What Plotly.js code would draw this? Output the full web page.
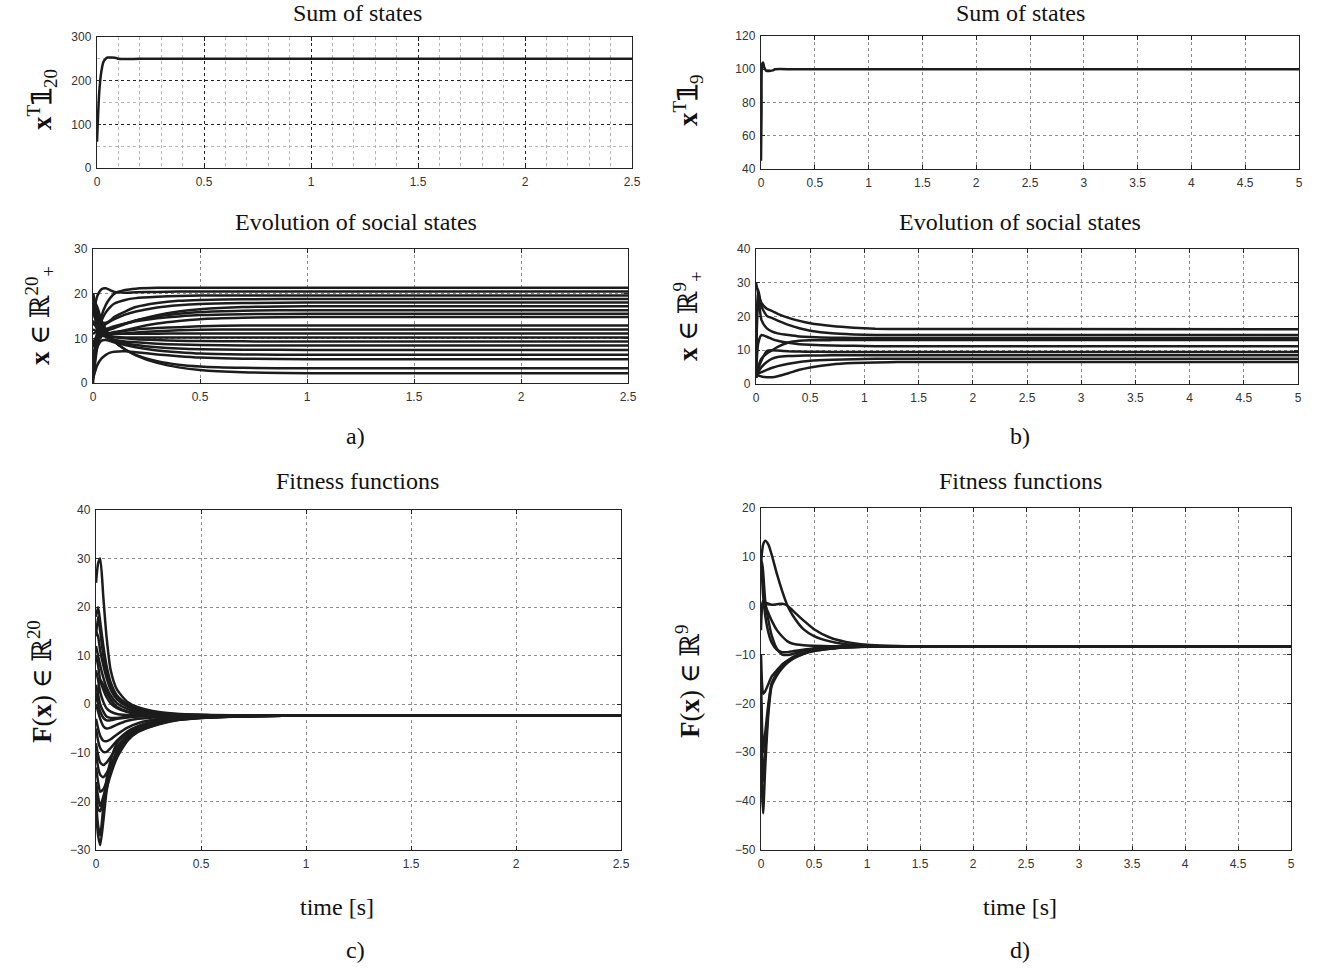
<!DOCTYPE html>
<html>
<head>
<meta charset="utf-8">
<script src="https://cdn.plot.ly/plotly-3.0.1.min.js"></script>
<style>html,body{margin:0;padding:0;background:#fff;}#chart{width:1326px;height:971px;}</style>
</head>
<body>
<div id="chart"></div>
<script>
// ---------------- DATA ----------------
// a) Sum of states, 20 populations
const tSum20 = [0, 0.005, 0.01, 0.02, 0.03, 0.04, 0.05, 0.07, 0.09, 0.1, 0.2, 0.5, 1.0, 1.5, 2.0, 2.5];
const sum20  = [60, 120, 170, 220, 243, 250, 253, 253, 252, 250, 250, 250, 250, 250, 250, 250];

// b) Sum of states, 9 populations
const tSum9 = [0, 0.005, 0.01, 0.02, 0.03, 0.05, 0.08, 0.11, 0.13, 0.3, 1, 2, 3, 4, 5];
const sum9  = [45, 75, 103, 104, 101, 99, 99, 99.3, 100, 100, 100, 100, 100, 100, 100];

// a) Evolution of social states, 20 states
const tState20 = [0, 0.02, 0.04, 0.06, 0.08, 0.1, 0.15, 0.2, 0.3, 0.4, 0.5, 0.7, 1.0, 2.5];
const states20 = [
  [2, 10, 15, 17.5, 19, 20, 20.8, 21.1, 21.3, 21.3, 21.3, 21.3, 21.3, 21.3],
  [15, 19.5, 21, 21.2, 20.8, 20.4, 20.2, 20.3, 20.4, 20.5, 20.5, 20.5, 20.5, 20.5],
  [5, 11, 14, 15.8, 17, 17.8, 18.6, 19.0, 19.3, 19.5, 19.6, 19.6, 19.6, 19.6],
  [18, 15, 13.5, 13.5, 14, 14.8, 16, 17, 17.9, 18.4, 18.6, 18.75, 18.8, 18.8],
  [8, 11, 12.5, 13.2, 13.8, 14.3, 15.3, 16, 16.9, 17.4, 17.7, 17.9, 18, 18],
  [20, 16, 13, 12, 12, 12.3, 13.2, 14, 15.2, 16, 16.5, 17, 17.2, 17.2],
  [11, 11.5, 11.5, 11.8, 12.1, 12.5, 13.3, 14, 14.9, 15.5, 15.9, 16.2, 16.3, 16.3],
  [0, 8, 11, 12, 12.4, 12.7, 13.3, 13.8, 14.5, 14.9, 15.2, 15.4, 15.5, 15.5],
  [16, 13, 11.5, 11, 11, 11.2, 11.8, 12.4, 13.3, 13.9, 14.3, 14.6, 14.8, 14.8],
  [3, 9, 10.5, 11, 11.2, 11.4, 11.7, 12, 12.3, 12.5, 12.7, 12.85, 12.9, 12.9],
  [20, 15, 12.5, 11.5, 11.1, 11, 11.1, 11.3, 11.6, 11.8, 11.9, 12, 12, 12],
  [9, 10.5, 10.8, 10.9, 11, 11, 11, 11, 11.05, 11.1, 11.1, 11.1, 11.1, 11.1],
  [14, 12, 11, 10.6, 10.4, 10.3, 10.2, 10.2, 10.2, 10.2, 10.2, 10.2, 10.2, 10.2],
  [6, 9.5, 10.5, 10.6, 10.5, 10.3, 10, 9.8, 9.6, 9.45, 9.4, 9.32, 9.3, 9.3],
  [17, 14, 11.5, 10.5, 10, 9.7, 9.3, 9.1, 8.8, 8.6, 8.5, 8.42, 8.4, 8.4],
  [12, 11.5, 10.8, 10.3, 9.9, 9.5, 8.9, 8.5, 8.0, 7.7, 7.55, 7.45, 7.4, 7.4],
  [4, 8, 9.5, 9.6, 9.4, 9.1, 8.5, 8, 7.3, 6.9, 6.6, 6.4, 6.3, 6.3],
  [1, 4, 5.5, 6.3, 6.8, 7, 7.1, 6.9, 6.4, 6, 5.7, 5.45, 5.3, 5.3],
  [19, 17, 14, 12, 10.5, 9.3, 7.5, 6.3, 4.9, 4.1, 3.7, 3.4, 3.3, 3.3],
  [13, 13.5, 12.5, 11.3, 10.2, 9.2, 7.5, 6.2, 4.5, 3.5, 2.9, 2.4, 2.2, 2.2]
];

// b) Evolution of social states, 9 states
const tState9 = [0, 0.02, 0.05, 0.1, 0.15, 0.2, 0.3, 0.4, 0.5, 0.7, 0.9, 1.1, 1.3, 5];
const states9 = [
  [30, 27, 24, 22.3, 21.6, 20.8, 19.6, 18.7, 18, 17.2, 16.7, 16.4, 16.3, 16.2],
  [2, 28, 23, 20.2, 19.5, 18.8, 17.5, 16.5, 15.8, 15, 14.7, 14.55, 14.5, 14.5],
  [2, 26, 19, 16.5, 15.5, 15, 14.5, 14.1, 13.9, 13.7, 13.65, 13.6, 13.6, 13.6],
  [2, 5, 7.5, 9, 10, 11, 12.3, 12.8, 12.95, 13, 13, 13, 13, 13],
  [2, 12, 14.5, 14, 13.3, 12.8, 12.2, 11.8, 11.6, 11.4, 11.3, 11.2, 11.2, 11.2],
  [2, 4.5, 7, 9.8, 10, 9.9, 9.7, 9.6, 9.55, 9.5, 9.5, 9.5, 9.5, 9.5],
  [2, 3.5, 5, 6.5, 7.5, 8, 8.3, 8.4, 8.45, 8.5, 8.5, 8.5, 8.5, 8.5],
  [2, 3, 3.5, 4.2, 4.8, 5.3, 6, 6.5, 6.9, 7.2, 7.35, 7.45, 7.5, 7.5],
  [2, 2.5, 2.2, 2.0, 2.0, 2.3, 3.2, 4.2, 4.9, 5.8, 6.2, 6.4, 6.5, 6.5]
];

// c) Fitness functions, 20 populations
const tFit20 = [0, 0.01, 0.02, 0.035, 0.05, 0.07, 0.1, 0.15, 0.2, 0.3, 0.4, 0.55, 0.75, 1.0, 2.5];
const fitness20 = [
  [25, 29, 30, 22, 14, 7, 3, 0.5, -0.6, -1.6, -2.0, -2.2, -2.25, -2.3, -2.3],
  [18, 20, 17, 12, 8, 4.5, 1.8, 0, -1, -1.8, -2.1, -2.25, -2.3, -2.3, -2.3],
  [15, 14, 11, 8, 5.5, 3, 1, -0.5, -1.3, -1.9, -2.15, -2.28, -2.3, -2.3, -2.3],
  [12, 10, 8, 5.5, 3.5, 1.8, 0.2, -1, -1.6, -2.0, -2.2, -2.28, -2.3, -2.3, -2.3],
  [10, 8, 5, 3, 1.5, 0.2, -0.8, -1.6, -2.0, -2.2, -2.27, -2.3, -2.3, -2.3, -2.3],
  [7, 5, 2.5, 0.5, -0.8, -1.5, -2.0, -2.2, -2.3, -2.3, -2.3, -2.3, -2.3, -2.3, -2.3],
  [4, 2, 0, -1.5, -2.5, -2.8, -2.8, -2.6, -2.45, -2.35, -2.3, -2.3, -2.3, -2.3, -2.3],
  [2, 0, -1.5, -2.8, -3.3, -3.3, -3.0, -2.7, -2.5, -2.38, -2.32, -2.3, -2.3, -2.3, -2.3],
  [0, -1.5, -3, -4.5, -5, -4.8, -4.2, -3.4, -3, -2.6, -2.45, -2.35, -2.3, -2.3, -2.3],
  [-3, -5, -6.5, -7.5, -7.6, -7.2, -6.2, -4.8, -3.9, -3, -2.7, -2.45, -2.35, -2.3, -2.3],
  [-5, -7.5, -9, -9.8, -9.8, -9, -7.5, -5.6, -4.5, -3.3, -2.8, -2.5, -2.38, -2.32, -2.3],
  [-8, -10.5, -12, -12.5, -12, -10.8, -8.8, -6.3, -5, -3.6, -2.9, -2.55, -2.4, -2.33, -2.3],
  [-10, -13, -14.5, -15, -14.2, -12.5, -9.8, -6.9, -5.3, -3.8, -3.0, -2.6, -2.42, -2.34, -2.3],
  [-13, -16, -18, -17.5, -16, -13.5, -10.5, -7.2, -5.5, -3.9, -3.1, -2.65, -2.44, -2.35, -2.3],
  [-16, -19, -21, -19, -16.5, -13.8, -10.8, -7.4, -5.6, -4.0, -3.15, -2.7, -2.45, -2.35, -2.3],
  [-18, -21.5, -22, -20, -17.5, -14.5, -11, -7.5, -5.7, -4.1, -3.2, -2.7, -2.45, -2.35, -2.3],
  [-22, -27, -29, -24, -18, -13.5, -9.5, -6.5, -5.0, -3.7, -3.0, -2.6, -2.42, -2.34, -2.3],
  [-20, -25, -27, -21, -15.5, -11.5, -8, -5.8, -4.6, -3.4, -2.85, -2.5, -2.38, -2.32, -2.3],
  [1, 3, 5, 4, 2.5, 1, -0.5, -1.5, -1.9, -2.2, -2.27, -2.3, -2.3, -2.3, -2.3],
  [14, 18, 15, 10, 6.5, 3.8, 1.5, -0.2, -1.1, -1.8, -2.1, -2.25, -2.3, -2.3, -2.3]
];

// d) Fitness functions, 9 populations
const tFit9 = [0, 0.01, 0.02, 0.04, 0.07, 0.1, 0.15, 0.2, 0.25, 0.3, 0.4, 0.5, 0.65, 0.8, 1.0, 1.2, 1.5, 5];
const fitness9 = [
  [9, 11, 12.5, 13.3, 12.5, 10.5, 6.5, 3, 0, -2, -4.8, -6.2, -7.3, -7.9, -8.2, -8.3, -8.3, -8.3],
  [5, 9, 7, 1, -3, -6, -8.8, -10, -10.1, -9.9, -9.2, -8.8, -8.5, -8.4, -8.3, -8.3, -8.3, -8.3],
  [-2, 0, 0.5, 0.6, 0.4, 0.2, 0.3, 0.4, 0, -1, -3, -4.8, -6.5, -7.4, -8, -8.2, -8.3, -8.3],
  [-5, 0, 1, 0, -1.5, -3, -5, -6.3, -7.3, -7.8, -8.1, -8.2, -8.3, -8.3, -8.3, -8.3, -8.3, -8.3],
  [-10, -16, -18, -17.5, -16, -14.5, -13.2, -12, -11.2, -10.5, -9.6, -9.1, -8.7, -8.5, -8.4, -8.3, -8.3, -8.3],
  [-20, -30, -36, -30, -21, -16, -14, -12.5, -11.5, -10.8, -9.8, -9.2, -8.8, -8.5, -8.4, -8.3, -8.3, -8.3],
  [-25, -38, -42.5, -33, -22, -16.5, -14.3, -12.8, -11.7, -10.9, -9.9, -9.3, -8.8, -8.55, -8.4, -8.3, -8.3, -8.3],
  [-15, -25, -30, -26, -20, -16, -13.8, -12.3, -11.3, -10.6, -9.7, -9.1, -8.7, -8.5, -8.4, -8.3, -8.3, -8.3],
  [10, 6, 2, -2, -5.5, -7.5, -9, -9.5, -9.5, -9.3, -9, -8.7, -8.5, -8.4, -8.3, -8.3, -8.3, -8.3]
];

// ---------------- LAYOUT ----------------
const W = 1326, H = 971;
const LINE = {color: '#1c1c1c', width: 2.5, shape: 'spline', smoothing: 0.6};
const traces = [];
function addLines(t, series, ax) {
  series.forEach(function (ys) {
    traces.push({x: t, y: ys, type: 'scatter', mode: 'lines', line: LINE,
      xaxis: 'x' + ax, yaxis: 'y' + ax, hoverinfo: 'skip', showlegend: false});
  });
}
addLines(tSum20, [sum20], 1);
addLines(tSum9, [sum9], 2);
addLines(tState20, states20, 3);
addLines(tState9, states9, 4);
addLines(tFit20, fitness20, 5);
addLines(tFit9, fitness9, 6);

const tickFont = {family: 'Liberation Sans, Arial, sans-serif', size: 12, color: '#333'};
function axis(p0, p1, horiz, range, dtick, anchor, extra) {
  const d = horiz ? [p0 / W, p1 / W] : [1 - p1 / H, 1 - p0 / H];
  const a = {
    domain: d, range: range, dtick: dtick, tick0: range[0] < 0 ? 0 : range[0], anchor: anchor,
    showline: true, linecolor: '#222', linewidth: 1.2, mirror: 'ticks',
    ticks: 'inside', ticklen: 4, tickcolor: '#222', tickwidth: 1,
    showgrid: true, gridcolor: '#8c8c8c', griddash: 'dot', gridwidth: 1,
    zeroline: false, tickfont: tickFont, fixedrange: true, ticklabelstandoff: 2
  };
  return Object.assign(a, extra || {});
}
const darkGrid = {gridcolor: '#222'};
const layout = {
  width: W, height: H, margin: {l: 0, r: 0, t: 0, b: 0},
  paper_bgcolor: '#fff', plot_bgcolor: '#fff', showlegend: false,
  xaxis:  axis(97, 632, true, [0, 2.5], 0.5, 'y', Object.assign({minor: {dtick: 0.1, showgrid: true, gridcolor: '#b5b5b5', griddash: 'dot', gridwidth: 1}}, darkGrid)),
  yaxis:  axis(37, 168, false, [0, 300], 100, 'x', Object.assign({minor: {dtick: 50, showgrid: true, gridcolor: '#b5b5b5', griddash: 'dot', gridwidth: 1}}, darkGrid)),
  xaxis2: axis(761, 1299, true, [0, 5], 0.5, 'y2'),
  yaxis2: axis(36, 169, false, [40, 120], 20, 'x2'),
  xaxis3: axis(93, 628, true, [0, 2.5], 0.5, 'y3'),
  yaxis3: axis(249, 383, false, [0, 30], 10, 'x3'),
  xaxis4: axis(756, 1298, true, [0, 5], 0.5, 'y4'),
  yaxis4: axis(249, 384, false, [0, 40], 10, 'x4'),
  xaxis5: axis(96, 621, true, [0, 2.5], 0.5, 'y5'),
  yaxis5: axis(510, 850, false, [-30, 40], 10, 'x5'),
  xaxis6: axis(761, 1291, true, [0, 5], 0.5, 'y6'),
  yaxis6: axis(508, 850, false, [-50, 20], 10, 'x6'),
  annotations: []
};

const serif = 'Liberation Serif, DejaVu Serif, serif';
function note(text, px, py, size, angle) {
  layout.annotations.push({text: text, x: px / W, y: 1 - py / H, xref: 'paper', yref: 'paper',
    xanchor: 'center', yanchor: 'middle', showarrow: false, textangle: angle || 0,
    font: {family: serif, size: size, color: '#111'}});
}
note('Sum of states', 357, 13, 24);
note('Sum of states', 1020, 13, 24);
note('Evolution of social states', 356, 222, 24);
note('Evolution of social states', 1020, 222, 24);
note('a)', 355, 436, 24);
note('b)', 1020, 436, 24);
note('Fitness functions', 357, 481, 24);
note('Fitness functions', 1020, 481, 24);
note('time [s]', 337, 907, 24);
note('time [s]', 1020, 907, 24);
note('c)', 355, 950, 24);
note('d)', 1020, 950, 24);
note('<b>x</b><sup>T</sup><b>𝟙</b><sub>20</sub>', 42, 100, 27, -90);
note('<b>x</b><sup>T</sup><b>𝟙</b><sub>9</sub>', 688, 100, 27, -90);
note('<b>x</b> ∈ ℝ<sup>20</sup><sub>+</sub>', 40, 316, 27, -90);
note('<b>x</b> ∈ ℝ<sup>9</sup><sub>+</sub>', 688, 316, 27, -90);
note('<b>F</b>(<b>x</b>) ∈ ℝ<sup>20</sup>', 40, 682, 27, -90);
note('<b>F</b>(<b>x</b>) ∈ ℝ<sup>9</sup>', 688, 682, 27, -90);

Plotly.newPlot('chart', traces, layout, {staticPlot: true, displayModeBar: false});
</script>
</body>
</html>
